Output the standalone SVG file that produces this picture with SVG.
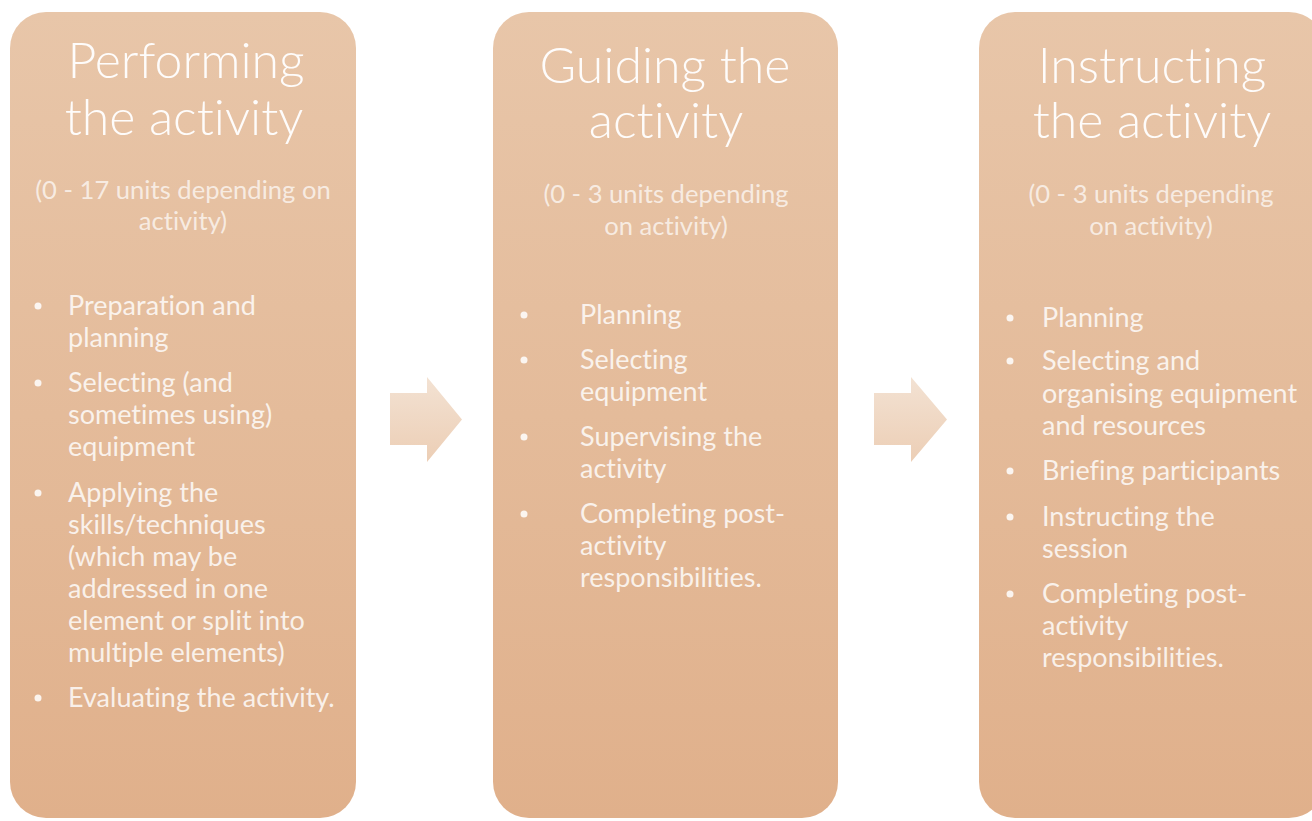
<svg xmlns="http://www.w3.org/2000/svg" width="1312" height="821" viewBox="0 0 1312 821">
  <style>
    text { font-variant-ligatures: none; font-family: Lato, "Liberation Sans", sans-serif; }
    .box { fill: url(#boxFill); }
    .arrow { fill: url(#arrowFill); }
    .title { font-weight: 300; font-size: 50px; fill: #ffffff; fill-opacity: 0.95; text-anchor: middle; }
    .sub { font-weight: 400; font-size: 25.6px; fill: #ffffff; fill-opacity: 0.7; text-anchor: middle; }
    .item { font-weight: 400; font-size: 27px; fill: #ffffff; fill-opacity: 0.82; }
    .dot { fill: #ffffff; fill-opacity: 0.85; }
  </style>
  <defs>
    <linearGradient id="boxFill" x1="0" y1="0" x2="0" y2="1">
      <stop offset="0" stop-color="#e8c6a9"/>
      <stop offset="1" stop-color="#e0b08b"/>
    </linearGradient>
    <linearGradient id="arrowFill" x1="0" y1="0" x2="0" y2="1">
      <stop offset="0" stop-color="#f3e2d3"/>
      <stop offset="1" stop-color="#ecceb5"/>
    </linearGradient>
  </defs>
  <rect width="1312" height="821" fill="#ffffff"/>

  <!-- Column 1 -->
  <g id="performing">
    <rect class="box" x="10" y="12" width="346" height="806" rx="36"/>
    <text class="title" x="186" y="78">Performing</text>
    <text class="title" x="184" y="135">the activity</text>
    <text class="sub" x="183" y="199">(0 - 17 units depending on</text>
    <text class="sub" x="183" y="230">activity)</text>
    <circle class="dot" cx="38" cy="306" r="3.5"/>
    <text class="item" x="68" y="315">Preparation and</text>
    <text class="item" x="68" y="347">planning</text>
    <circle class="dot" cx="38" cy="383" r="3.5"/>
    <text class="item" x="68" y="392">Selecting (and</text>
    <text class="item" x="68" y="424">sometimes using)</text>
    <text class="item" x="68" y="456">equipment</text>
    <circle class="dot" cx="38" cy="493" r="3.5"/>
    <text class="item" x="68" y="502">Applying the</text>
    <text class="item" x="68" y="534">skills/techniques</text>
    <text class="item" x="68" y="566">(which may be</text>
    <text class="item" x="68" y="598">addressed in one</text>
    <text class="item" x="68" y="630">element or split into</text>
    <text class="item" x="68" y="662">multiple elements)</text>
    <circle class="dot" cx="38" cy="698" r="3.5"/>
    <text class="item" x="68" y="707">Evaluating the activity.</text>
  </g>

  <!-- Column 2 -->
  <g id="guiding">
    <rect class="box" x="493" y="12" width="345" height="806" rx="36"/>
    <text class="title" x="665" y="83">Guiding the</text>
    <text class="title" x="666" y="138">activity</text>
    <text class="sub" x="666" y="203">(0 - 3 units depending</text>
    <text class="sub" x="666" y="235">on activity)</text>
    <circle class="dot" cx="524" cy="315" r="3.5"/>
    <text class="item" x="580" y="324">Planning</text>
    <circle class="dot" cx="524" cy="360" r="3.5"/>
    <text class="item" x="580" y="369">Selecting</text>
    <text class="item" x="580" y="401">equipment</text>
    <circle class="dot" cx="524" cy="437" r="3.5"/>
    <text class="item" x="580" y="446">Supervising the</text>
    <text class="item" x="580" y="478">activity</text>
    <circle class="dot" cx="524" cy="514" r="3.5"/>
    <text class="item" x="580" y="523">Completing post-</text>
    <text class="item" x="580" y="555">activity</text>
    <text class="item" x="580" y="587">responsibilities.</text>
  </g>

  <!-- Column 3 -->
  <g id="instructing">
    <rect class="box" x="979" y="12" width="346" height="806" rx="36"/>
    <text class="title" x="1152" y="83">Instructing</text>
    <text class="title" x="1152" y="138">the activity</text>
    <text class="sub" x="1151" y="203">(0 - 3 units depending</text>
    <text class="sub" x="1151" y="235">on activity)</text>
    <circle class="dot" cx="1010" cy="318" r="3.5"/>
    <text class="item" x="1042" y="327">Planning</text>
    <circle class="dot" cx="1010" cy="361" r="3.5"/>
    <text class="item" x="1042" y="370">Selecting and</text>
    <text class="item" x="1042" y="403">organising equipment</text>
    <text class="item" x="1042" y="435">and resources</text>
    <circle class="dot" cx="1010" cy="471" r="3.5"/>
    <text class="item" x="1042" y="480">Briefing participants</text>
    <circle class="dot" cx="1010" cy="517" r="3.5"/>
    <text class="item" x="1042" y="526">Instructing the</text>
    <text class="item" x="1042" y="558">session</text>
    <circle class="dot" cx="1010" cy="594" r="3.5"/>
    <text class="item" x="1042" y="603">Completing post-</text>
    <text class="item" x="1042" y="635">activity</text>
    <text class="item" x="1042" y="667">responsibilities.</text>
  </g>

  <!-- Connectors -->
  <g id="connectors">
    <path class="arrow" d="M390 393 H427 V377 L462 419.5 L427 462 V445 H390 Z"/>
    <path class="arrow" d="M874 393 H911 V377 L947 419.5 L911 462 V445 H874 Z"/>
  </g>
</svg>
